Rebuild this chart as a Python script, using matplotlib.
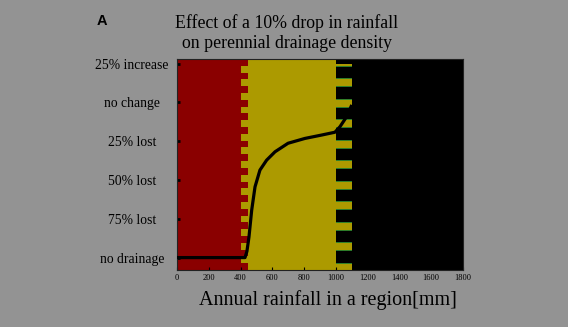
import matplotlib
matplotlib.use("Agg")
import matplotlib.pyplot as plt
from matplotlib.patches import Rectangle
import numpy as np

# Data
rain_mm = [0, 428, 440, 453, 470, 491, 522, 564, 617, 699, 805, 911, 994, 1026, 1068, 1100]
effect = [-100, -100, -96, -86.7, -69.5, -54.4, -43.6, -37.2, -31.8, -26.3, -23.2, -21, -19.2, -15.6, -9.1, -1.6]
ytick_vals = [-100, -75, -50, -25, 0, 25]
ytick_labels = ["no drainage", "75% lost", "50% lost", "25% lost", "no change", "25% increase"]
xtick_vals = [0, 200, 400, 600, 800, 1000, 1200, 1400, 1600, 1800]
zones = [(0, 405, "red"), (405, 1100, "yellow"), (1100, 1800, "black")]

BG = "#939393"
RED = "#8a0000"
YEL = "#ac9a00"
BLK = "#000000"
GRN = "#2f7f2a"
cmap = {"red": RED, "yellow": YEL, "black": BLK}

fig = plt.figure(figsize=(5.68, 3.27), dpi=100, facecolor=BG)
ax = fig.add_axes([177/568, 1-270/327, 286/568, 211/327])
ylo, yhi = -108, 28
ax.set_xlim(0, 1800)
ax.set_ylim(ylo, yhi)

for x0, x1, c in zones:
    ax.axvspan(x0, x1, color=cmap[c], lw=0, zorder=0)

# red teeth into yellow
per_r = (yhi - ylo) / 15.5
y = ylo
while y < yhi:
    ax.add_patch(Rectangle((405, y), 40, per_r/2, facecolor=RED, lw=0, zorder=1))
    y += per_r
# black teeth into yellow
per_b = (yhi - ylo) / 10.3
y = ylo + per_b * 0.35
while y < yhi:
    h = min(per_b*0.62, yhi - y)
    ax.add_patch(Rectangle((1000, y), 100, h, facecolor=BLK, lw=0, zorder=1))
    ax.plot([1000, 1100], [y, y], color=GRN, lw=0.7, zorder=1.2)
    if y + h < yhi:
        ax.plot([1000, 1100], [y + h, y + h], color=GRN, lw=0.7, zorder=1.2)
    y += per_b
ax.add_patch(Rectangle((1000, yhi - per_b*0.25), 100, per_b*0.4, facecolor=BLK, lw=0, zorder=1))
ax.axvline(1101, color=GRN, lw=0.7, zorder=1.2)
ax.axvspan(1103, 1800, color=BLK, lw=0, zorder=1.5)

ax.plot(rain_mm, effect, color="black", lw=2.3, zorder=3, solid_capstyle="butt")

ax.set_yticks(ytick_vals)
ax.set_yticklabels(ytick_labels, fontsize=9.8, family="Liberation Serif")
for lbl in ax.get_yticklabels():
    lbl.set_horizontalalignment("center")
ax.set_xticks(xtick_vals)
ax.set_xticklabels([str(v) for v in xtick_vals], fontsize=6, family="Liberation Serif")
ax.tick_params(axis="y", direction="in", length=2.5, width=2, color="black", pad=45*0.72)
ax.tick_params(axis="x", direction="in", length=2, width=0.8, color="black", pad=3)
for s in ax.spines.values():
    s.set_color("#222222")
    s.set_linewidth(0.8)

fig.text(328/568, 1-305/327, "Annual rainfall in a region[mm]", ha="center", va="baseline",
         fontsize=14.5, family="Liberation Serif")

fig.text(287/568, 1-23/327, "Effect of a 10% drop in rainfall", ha="center", va="center",
         fontsize=12.8, family="Liberation Serif")
fig.text(287/568, 1-44/327, "on perennial drainage density", ha="center", va="center",
         fontsize=12.8, family="Liberation Serif")
fig.text(97/568, 1-21/327, "A", ha="left", va="center", fontsize=10.5, weight="bold",
         family="Liberation Sans")

fig.savefig("out.png", dpi=100, facecolor=BG)
